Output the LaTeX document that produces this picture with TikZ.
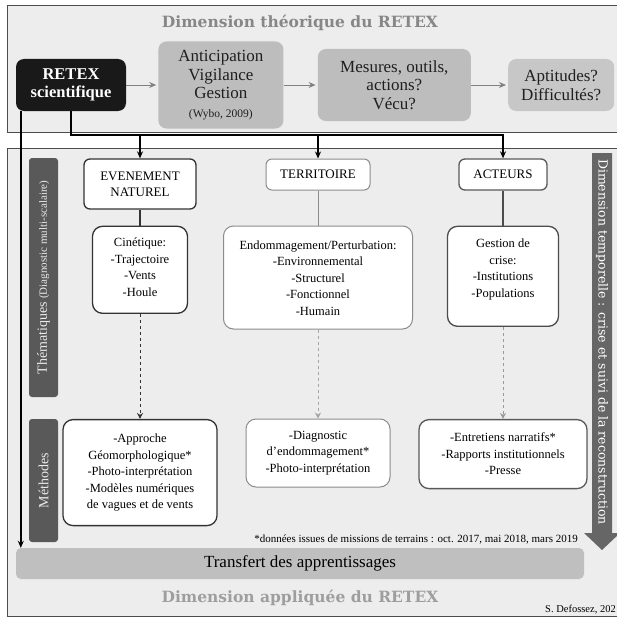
\documentclass[tikz,border=0pt]{standalone}
\usepackage{fontspec}
\setmainfont{Liberation Serif}
\newfontfamily\slabfont{DejaVu Serif}
\usetikzlibrary{positioning,arrows.meta}

\begin{document}
\begin{tikzpicture}[x=1pt, y=-1pt,
  panel/.style={draw=black!70, fill=black!7, line width=0.9pt},
  dimtitle/.style={font=\slabfont\bfseries\fontsize{15.5}{17}\selectfont, text=black!47},
  topbox/.style={rounded corners=8pt, fill=black!26, text=black!88, align=center,
    font=\fontsize{17}{18.5}\selectfont, inner sep=0pt},
  headbox/.style={rounded corners=6pt, draw=black!80, fill=white, line width=1.3pt,
    align=center, font=\fontsize{13}{16}\selectfont, inner sep=0pt},
  textbox/.style={rounded corners=10pt, draw=black!80, fill=white, line width=1.3pt,
    align=center, font=\fontsize{12.5}{16.5}\selectfont, inner sep=0pt},
  sidebar/.style={rounded corners=3pt, fill=black!65, text=black!8, inner sep=0pt},
  link/.style={line width=1.4pt, -{Stealth[length=7pt,width=6pt]}},
  flow/.style={line width=1pt, draw=black!50, shorten >=2pt, -{Stealth[length=7pt,width=6pt]}},
  hint/.style={line width=1pt, dashed, -{Stealth[length=6pt,width=6pt]}}]

  \useasboundingbox (0,0) rectangle (616,618);

  \draw[panel] (7,5) rectangle (630,132);
  \draw[panel] (7,148) rectangle (630,616);

  \node (theo) [dimtitle] at (300,23) {Dimension théorique du RETEX};

  \node (retex) [topbox, fill=black!90, text=white, font=\bfseries\fontsize{16.5}{18}\selectfont,
    minimum width=110pt, minimum height=52pt] at (71,85) {RETEX\\scientifique};
  \node (antic) [topbox, minimum width=125pt, minimum height=87pt, right=32pt of retex]
    {Anticipation\\Vigilance\\Gestion\\{\fontsize{11.5}{14}\selectfont (Wybo, 2009)}};
  \node (mesures) [topbox, minimum width=153pt, minimum height=72pt, right=34pt of antic]
    {Mesures, outils,\\actions?\\Vécu?};
  \node (apt) [topbox, fill=black!22, minimum width=106pt, minimum height=52pt, right=37pt of mesures]
    {Aptitudes?\\Difficultés?};

  \draw[flow] (retex) -- (antic);
  \draw[flow] (antic) -- (mesures);
  \draw[flow] (mesures) -- (apt);

  \node (thema) [sidebar, rotate=90, minimum width=239pt, minimum height=29pt] at (43.5,277.5)
    {\fontsize{14}{16}\selectfont Thématiques \fontsize{11}{12}\selectfont(Diagnostic multi-scalaire)};
  \node (meth) [sidebar, rotate=90, minimum width=123pt, minimum height=29pt] at (43.5,480.5)
    {\fontsize{14}{16}\selectfont Méthodes};

  \node (evt) [headbox, minimum width=112pt, minimum height=50pt] at (140,184) {EVENEMENT\\NATUREL};
  \node (terr) [headbox, draw=black!45, line width=1pt, minimum width=104pt, minimum height=31pt]
    at (318,174.5) {TERRITOIRE};
  \node (act) [headbox, draw=black!65, minimum width=88pt, minimum height=31pt] at (503,174.5) {ACTEURS};

  \node (cine) [textbox, minimum width=95pt, text height=70pt, text depth=17pt, below=16pt of evt]
    {Cinétique:\\-Trajectoire\\-Vents\\-Houle};
  \node (endo) [textbox, draw=black!45, line width=1pt, minimum width=189pt, text height=89pt,
    text depth=14pt, below=35pt of terr]
    {Endommagement/Perturbation:\\-Environnemental\\-Structurel\\-Fonctionnel\\-Humain};
  \node (gest) [textbox, draw=black!70, minimum width=111pt, text height=71pt, text depth=29pt,
    below=35pt of act] {Gestion de\\crise:\\-Institutions\\-Populations};

  \node (appr) [textbox, minimum width=154pt, minimum height=106pt, below=105pt of cine]
    {-Approche\\Géomorphologique*\\-Photo-interprétation\\-Modèles numériques\\de vagues et de vents};
  \node (diag) [textbox, draw=black!45, line width=1pt, minimum width=144pt, minimum height=68pt,
    below=89pt of endo] {-Diagnostic\\d'endommagement*\\-Photo-interprétation};
  \node (entr) [textbox, draw=black!65, minimum width=168pt, minimum height=69pt, below=92pt of gest]
    {-Entretiens narratifs*\\-Rapports institutionnels\\-Presse};

  \draw[line width=1.3pt, black!80] (evt) -- (cine);
  \draw[line width=1pt, black!45] (terr) -- (endo);
  \draw[line width=1.3pt, black!70] (act) -- (gest);

  \draw[hint, black!80] (cine) -- (appr);
  \draw[hint, black!35] (endo) -- (diag);
  \draw[hint, black!40] (gest) -- (entr);

  \node (transfer) [rounded corners=5pt, fill=black!25, minimum width=568pt, minimum height=31pt,
    inner sep=0pt, font=\fontsize{17}{18}\selectfont] at (300,563.5) {Transfert des apprentissages};

  \coordinate (split) at (retex.south |- 0,135);
  \coordinate (edge) at ([xshift=5pt]retex.south west);
  \draw[link] (retex.south) -- (split) -| (act.north);
  \draw[link] (split -| evt.north) -- (evt.north);
  \draw[link] (split -| terr.north) -- (terr.north);
  \draw[link] (edge) -- (edge |- transfer.north);

  \fill[black!60] (592,153) -- (612,153) -- (612,533) -- (620,533) -- (602,550) -- (584,533)
    -- (592,533) -- cycle;
  \node (tempo) [rotate=-90, text=white, font=\slabfont\fontsize{12.5}{14}\selectfont] at (602,342)
    {Dimension temporelle : crise et suivi de la reconstruction};

  \node (note) [anchor=base east, inner sep=0pt, font=\fontsize{11}{12}\selectfont] at (578,542)
    {*données issues de missions de terrains : oct. 2017, mai 2018, mars 2019};
  \node (appl) [dimtitle, text=black!38] at (300,598) {Dimension appliquée du RETEX};
  \node (credit) [anchor=base east, inner sep=0pt, font=\fontsize{10.5}{12}\selectfont] at (616,612)
    {S. Defossez, 202};

\end{tikzpicture}
\end{document}
